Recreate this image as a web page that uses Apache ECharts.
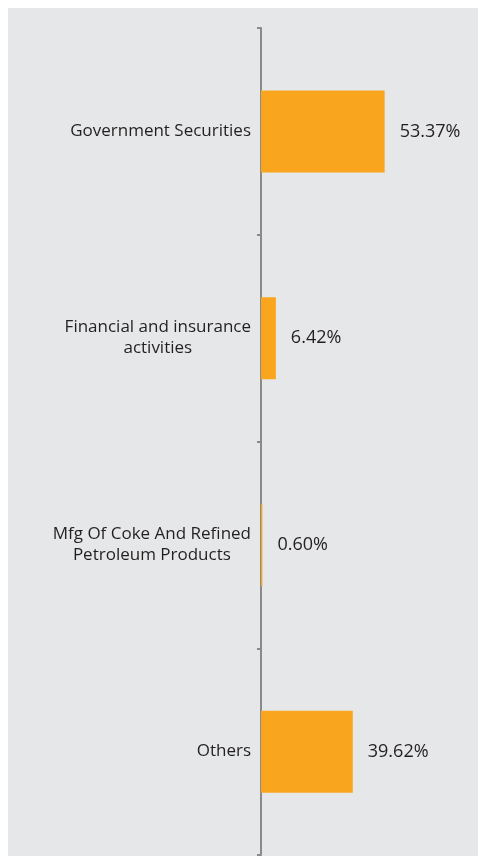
<!DOCTYPE html>
<html>
<head>
<meta charset="utf-8">
<script src="https://cdn.jsdelivr.net/npm/echarts@6/dist/echarts.min.js"></script>
<style>
html,body{margin:0;padding:0;background:#fff;}
#bg{position:absolute;left:8px;top:8px;width:470px;height:848px;background:#e6e7e8;}
#chart{position:absolute;left:0;top:0;width:482px;height:856px;}
</style>
</head>
<body>
<div id="bg"></div>
<div id="chart"></div>
<script>
var categories = ['Government Securities', 'Financial and insurance\nactivities', 'Mfg Of Coke And Refined\nPetroleum Products', 'Others'];
var values = [53.37, 6.42, 0.60, 39.62];

var chart = echarts.init(document.getElementById('chart'), null, {renderer: 'canvas'});
chart.setOption({
  backgroundColor: 'transparent',
  animation: false,
  grid: {left: 261, right: 82, top: 28, bottom: 1, containLabel: false},
  xAxis: {type: 'value', min: 0, max: 60, show: false},
  yAxis: {
    type: 'category',
    inverse: true,
    data: categories,
    axisLine: {show: true, lineStyle: {color: '#8a8a8a', width: 2}},
    axisTick: {show: true, length: 4, lineStyle: {color: '#8a8a8a', width: 2}},
    axisLabel: {
      margin: 10,
      color: '#231f20',
      fontFamily: 'Open Sans',
      fontSize: 17,
      lineHeight: 21,
      align: 'right',
      formatter: function (v) {
        return v.split('\n').map(function (s) { return '{c|' + s + '}'; }).join('\n');
      },
      rich: {
        c: {align: 'center', color: '#231f20', fontFamily: 'Open Sans', fontSize: 17, lineHeight: 21}
      }
    },
    splitLine: {show: false}
  },
  series: [{
    type: 'bar',
    data: values,
    barWidth: 82,
    itemStyle: {color: '#f9a61e'},
    label: {
      show: true,
      position: 'right',
      distance: 15,
      color: '#231f20',
      fontFamily: 'Open Sans',
      fontSize: 18,
      formatter: function (p) { return p.value.toFixed(2) + '%'; }
    }
  }]
});
</script>
</body>
</html>
